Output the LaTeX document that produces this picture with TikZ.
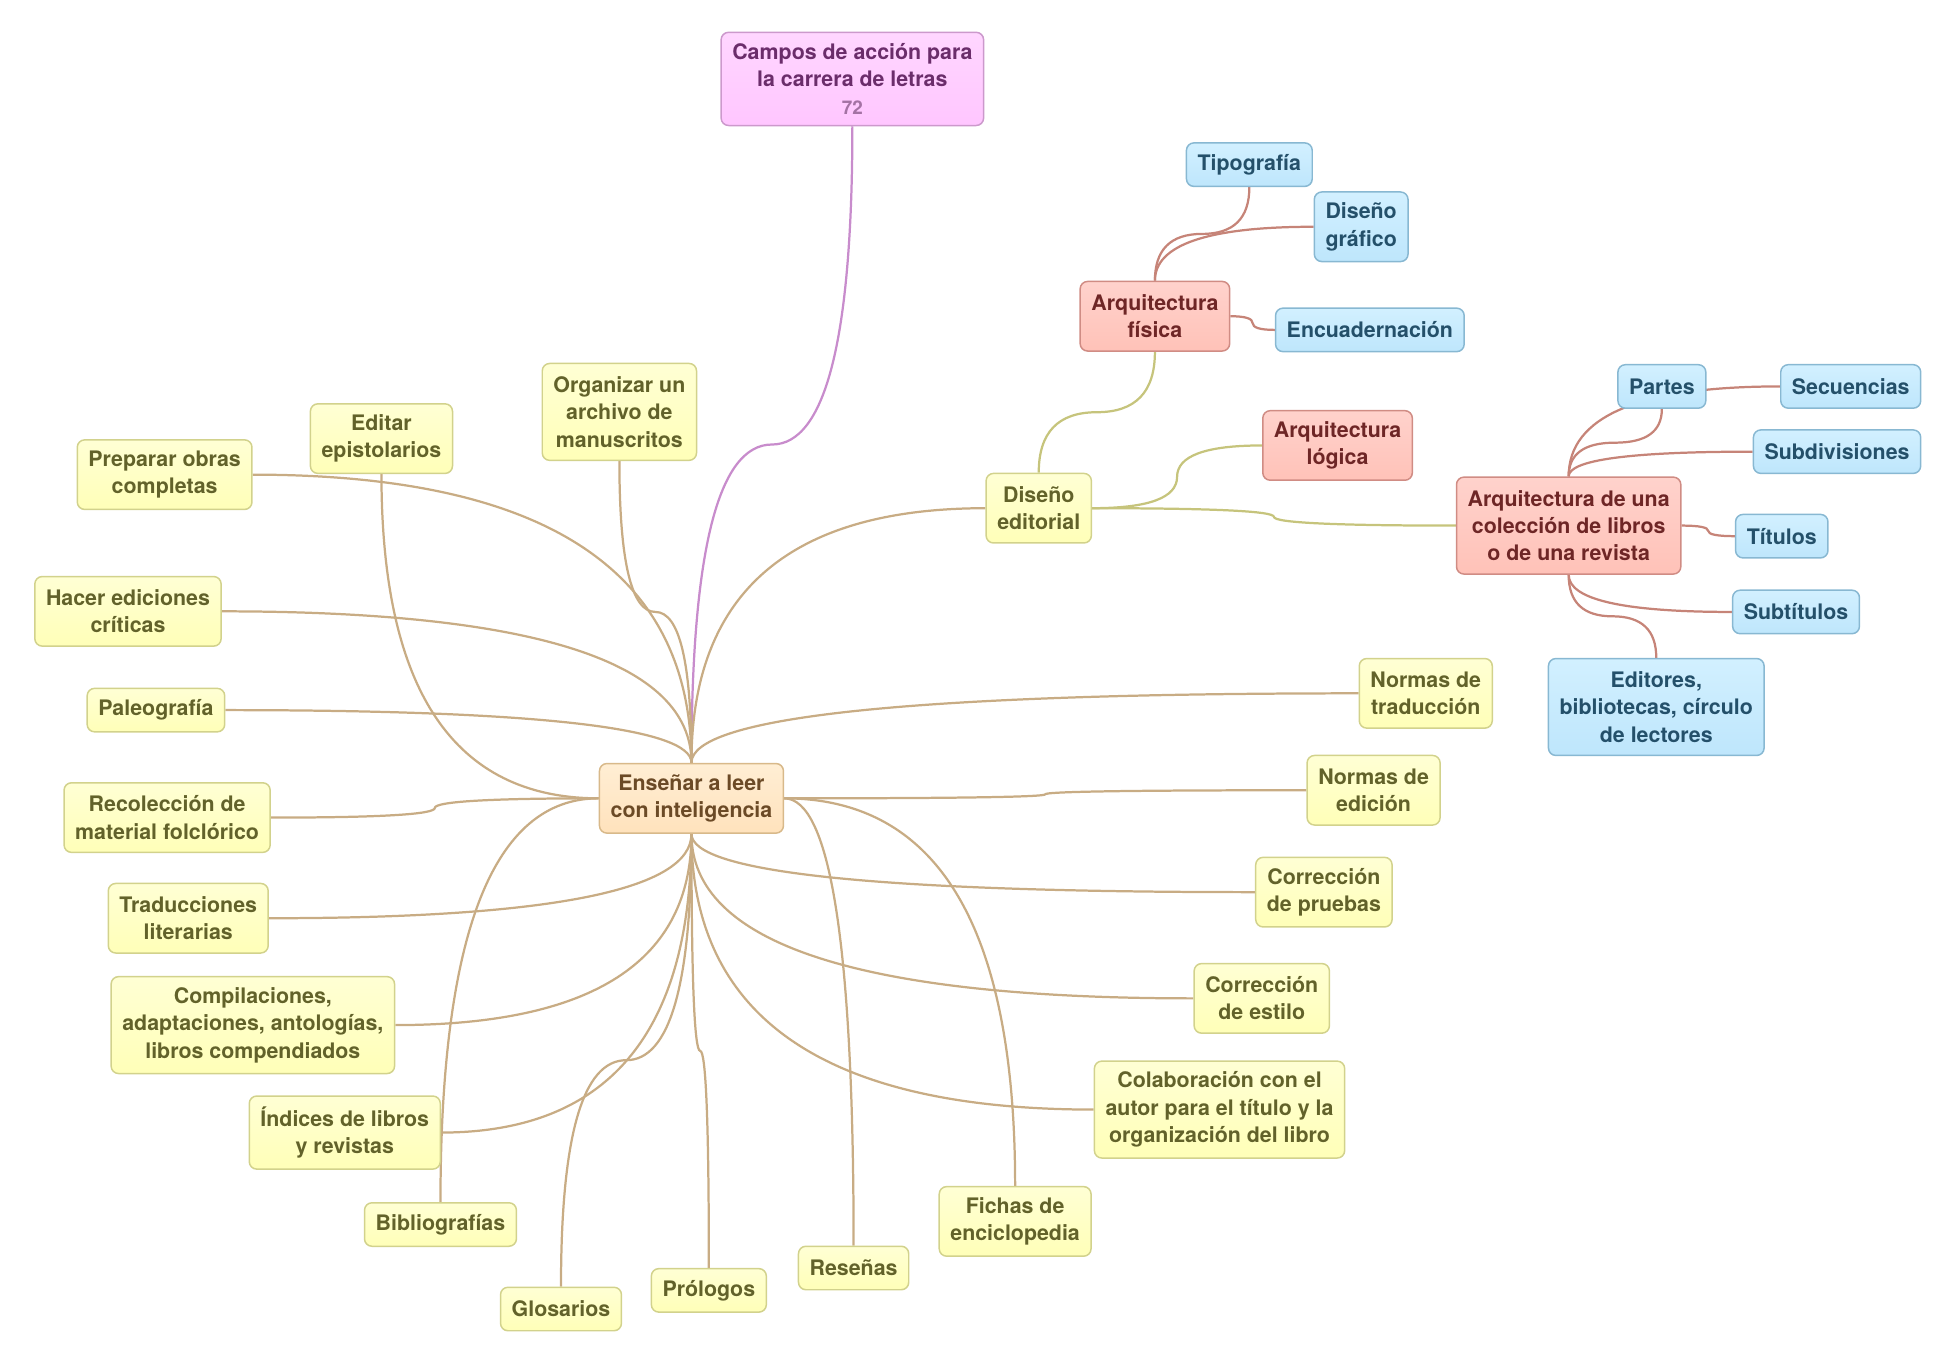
\documentclass[tikz,border=0pt]{standalone}
\usepackage{fontspec}
\setmainfont{TeX Gyre Heros}
\usetikzlibrary{calc}
\usetikzlibrary{backgrounds}

\definecolor{yeltop}{HTML}{FFFFD4}
\definecolor{yelbot}{HTML}{FFFFB8}
\definecolor{yeldraw}{HTML}{D2D28C}
\definecolor{yeltext}{HTML}{62622A}
\definecolor{pchtop}{HTML}{FFEED4}
\definecolor{pchbot}{HTML}{FFE2BC}
\definecolor{pchdraw}{HTML}{D8B98A}
\definecolor{pchtext}{HTML}{6B4A26}
\definecolor{pnktop}{HTML}{FFD6FF}
\definecolor{pnkbot}{HTML}{FFC6FF}
\definecolor{pnkdraw}{HTML}{CC99CC}
\definecolor{pnktext}{HTML}{6B2D6B}
\definecolor{pnknum}{HTML}{A472A4}
\definecolor{redtop}{HTML}{FFD2CC}
\definecolor{redbot}{HTML}{FFC2B8}
\definecolor{reddraw}{HTML}{D08C84}
\definecolor{redtext}{HTML}{6E2626}
\definecolor{blutop}{HTML}{D2F0FF}
\definecolor{blubot}{HTML}{BEE6FC}
\definecolor{bludraw}{HTML}{88B8D2}
\definecolor{blutext}{HTML}{24506A}
\definecolor{tanedge}{HTML}{C8AC84}
\definecolor{puredge}{HTML}{C88CCC}
\definecolor{oliedge}{HTML}{C6C47C}
\definecolor{rusedge}{HTML}{C68478}

\tikzset{
 hv/.style={to path={let \p1=(\tikztostart), \p2=(\tikztotarget) in
   .. controls ($(\p1)!0.667!(\x2,\y1)$) and ($(\p2)!0.667!(\x2,\y1)$) .. (\p2)}},
 vh/.style={to path={let \p1=(\tikztostart), \p2=(\tikztotarget) in
   .. controls ($(\p1)!0.667!(\x1,\y2)$) and ($(\p2)!0.667!(\x1,\y2)$) .. (\p2)}},
 hh/.style={to path={let \p1=(\tikztostart), \p2=(\tikztotarget), \p3=($(\p1)!0.5!(\p2)$) in
   .. controls ($(\p1)!0.667!(\x3,\y1)$) and ($(\p3)!0.667!(\x3,\y1)$) .. (\p3)
   .. controls ($(\p3)!0.667!(\x3,\y2)$) and ($(\p2)!0.667!(\x3,\y2)$) .. (\p2)}},
 vv/.style={to path={let \p1=(\tikztostart), \p2=(\tikztotarget), \p3=($(\p1)!0.5!(\p2)$) in
   .. controls ($(\p1)!0.667!(\x1,\y3)$) and ($(\p3)!0.667!(\x1,\y3)$) .. (\p3)
   .. controls ($(\p3)!0.667!(\x2,\y3)$) and ($(\p2)!0.667!(\x2,\y3)$) .. (\p2)}}
}

\begin{document}
\begin{tikzpicture}[x=0.5pt, y=-0.5pt]
 \tikzstyle{box} = [draw, rounded corners=3pt, line width=0.6pt, align=center, inner xsep=4.5pt, inner ysep=4.3pt, minimum height=17.5pt, font=\fontsize{8.6}{11}\selectfont\bfseries];
 \tikzstyle{two} = [minimum height=28pt];
 \tikzstyle{three} = [minimum height=39pt];
 \tikzstyle{yelbox} = [box, top color=yeltop, bottom color=yelbot, draw=yeldraw, text=yeltext];
 \tikzstyle{pchbox} = [box, top color=pchtop, bottom color=pchbot, draw=pchdraw, text=pchtext];
 \tikzstyle{pnkbox} = [box, top color=pnktop, bottom color=pnkbot, draw=pnkdraw, text=pnktext];
 \tikzstyle{redbox} = [box, top color=redtop, bottom color=redbot, draw=reddraw, text=redtext];
 \tikzstyle{blubox} = [box, top color=blutop, bottom color=blubot, draw=bludraw, text=blutext];

 \useasboundingbox (0,0) rectangle (1567,1094);

 \node (root) [pnkbox, minimum height=37.5pt] at (686,63.5) {Campos de acción para\\la carrera de letras\\{\fontsize{7.6}{8}\selectfont\color{pnknum}72}};
 \node (ens) [pchbox, two] at (556.5,642.5) {Enseñar a leer\\con inteligencia};

 \node (org) [yelbox, three] at (498.5,331.5) {Organizar un\\archivo de\\manuscritos};
 \node (epi) [yelbox, two] at (307,353) {Editar\\epistolarios};
 \node (pre) [yelbox, two] at (132.5,382) {Preparar obras\\completas};
 \node (cri) [yelbox, two] at (103,492) {Hacer ediciones\\críticas};
 \node (pal) [yelbox] at (125.5,571.5) {Paleografía};
 \node (fol) [yelbox, two] at (134.5,658) {Recolección de\\material folclórico};
 \node (lit) [yelbox, two] at (151.5,739) {Traducciones\\literarias};
 \node (cmp) [yelbox, three] at (203.5,825) {Compilaciones,\\adaptaciones, antologías,\\libros compendiados};
 \node (ind) [yelbox, two] at (277.5,911.5) {Índices de libros\\y revistas};
 \node (bib) [yelbox] at (354.5,985.5) {Bibliografías};
 \node (glo) [yelbox] at (451.5,1053.5) {Glosarios};
 \node (pro) [yelbox] at (570.5,1038.5) {Prólogos};
 \node (res) [yelbox] at (687,1020.5) {Reseñas};
 \node (fic) [yelbox, two] at (817,983) {Fichas de\\enciclopedia};
 \node (aut) [yelbox, three] at (981.5,893) {Colaboración con el\\autor para el título y la\\organización del libro};
 \node (est) [yelbox, two] at (1015.5,803.5) {Corrección\\de estilo};
 \node (pru) [yelbox, two] at (1065.5,718) {Corrección\\de pruebas};
 \node (ned) [yelbox, two] at (1105.5,636) {Normas de\\edición};
 \node (ntr) [yelbox, two] at (1147.5,558) {Normas de\\traducción};
 \node (dis) [yelbox, two] at (836,409) {Diseño\\editorial};

 \node (fis) [redbox, two] at (929.5,254.5) {Arquitectura\\física};
 \node (log) [redbox, two] at (1076.5,358.5) {Arquitectura\\lógica};
 \node (adc) [redbox, three] at (1262.5,423) {Arquitectura de una\\colección de libros\\o de una revista};

 \node (tip) [blubox] at (1005.5,132.5) {Tipografía};
 \node (gra) [blubox, two] at (1095.5,182.5) {Diseño\\gráfico};
 \node (enc) [blubox] at (1102.5,265.5) {Encuadernación};
 \node (par) [blubox] at (1337.5,311) {Partes};
 \node (sec) [blubox] at (1489.5,311) {Secuencias};
 \node (sub) [blubox] at (1478.5,363.5) {Subdivisiones};
 \node (tit) [blubox] at (1434,431.5) {Títulos};
 \node (stt) [blubox] at (1445.5,492.5) {Subtítulos};
 \node (lec) [blubox, three] at (1333,569) {Editores,\\bibliotecas, círculo\\de lectores};

 \tikzstyle{C} = [line width=0.9pt];

 \begin{pgfonlayer}{background}
 \draw [C, puredge] (root.south) to[vv] (ens.north);

 \draw [C, tanedge] (org.south) to[vv] (ens.north);
 \draw [C, tanedge] (pre.east) to[hv] (ens.north);
 \draw [C, tanedge] (cri.east) to[hv] (ens.north);
 \draw [C, tanedge] (pal.east) to[hv] (ens.north);
 \draw [C, tanedge] (ntr.west) to[hv] (ens.north);
 \draw [C, tanedge] (dis.west) to[hv] (ens.north);
 \draw [C, tanedge] (epi.south) to[vh] (ens.west);
 \draw [C, tanedge] (bib.north) to[vh] (ens.west);
 \draw [C, tanedge] (fol.east) to[hh] (ens.west);
 \draw [C, tanedge] (lit.east) to[hv] (ens.south);
 \draw [C, tanedge] (cmp.east) to[hv] (ens.south);
 \draw [C, tanedge] (ind.east) to[hv] (ens.south);
 \draw [C, tanedge] (aut.west) to[hv] (ens.south);
 \draw [C, tanedge] (est.west) to[hv] (ens.south);
 \draw [C, tanedge] (pru.west) to[hv] (ens.south);
 \draw [C, tanedge] (glo.north) to[vv] (ens.south);
 \draw [C, tanedge] (pro.north) to[vv] (ens.south);
 \draw [C, tanedge] (res.north) to[vh] (ens.east);
 \draw [C, tanedge] (fic.north) to[vh] (ens.east);
 \draw [C, tanedge] (ned.west) to[hh] (ens.east);

 \draw [C, oliedge] (dis.north) to[vv] (fis.south);
 \draw [C, oliedge] (dis.east) to[hh] (log.west);
 \draw [C, oliedge] (dis.east) to[hh] (adc.west);

 \draw [C, rusedge] (fis.north) to[vv] (tip.south);
 \draw [C, rusedge] (fis.north) to[vh] (gra.west);
 \draw [C, rusedge] (fis.east) to[hh] (enc.west);
 \draw [C, rusedge] (adc.north) to[vv] (par.south);
 \draw [C, rusedge] (adc.north) to[vh] (sec.west);
 \draw [C, rusedge] (adc.north) to[vh] (sub.west);
 \draw [C, rusedge] (adc.east) to[hh] (tit.west);
 \draw [C, rusedge] (adc.south) to[vh] (stt.west);
 \draw [C, rusedge] (adc.south) to[vv] (lec.north);
 \end{pgfonlayer}
\end{tikzpicture}
\end{document}
